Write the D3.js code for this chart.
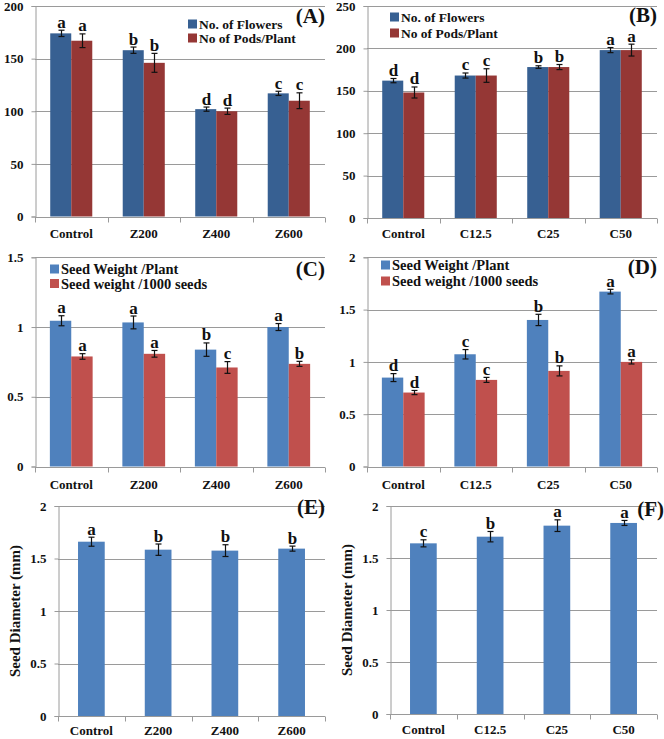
<!DOCTYPE html>
<html><head><meta charset="utf-8">
<script src="https://cdn.jsdelivr.net/npm/d3@7"></script>
<style>
html,body{margin:0;padding:0;background:#fff;}
svg{display:block;}
svg text{font-family:"Liberation Serif","Times New Roman",serif !important;font-weight:bold;fill:#111;}
</style></head>
<body>
<svg id="chart" width="664" height="739"></svg>
<script>
// ---------- DATA ----------
const catsZ = ["Control","Z200","Z400","Z600"];
const catsC = ["Control","C12.5","C25","C50"];

// Panel A (Zinc) - flowers & pods
const flowersZ = [174, 158, 102, 117];
const flowersZErr = [3, 3, 2, 2];
const flowersZLet = ["a","b","d","c"];
const podsZ = [167, 146, 100, 110];
const podsZErr = [6.5, 9, 3, 7.5];
const podsZLet = ["a","b","d","c"];

// Panel B (C) - flowers & pods
const flowersC = [162, 168, 178, 198];
const flowersCErr = [2.5, 3, 1.5, 3];
const flowersCLet = ["d","c","b","a"];
const podsC = [148, 168, 178, 198];
const podsCErr = [6.5, 8, 3, 7];
const podsCLet = ["d","c","b","a"];

// Panel C (Zinc) - seed weight
const seedPlantZ = [1.045, 1.033, 0.838, 1.0];
const seedPlantZErr = [0.036, 0.046, 0.048, 0.025];
const seedPlantZLet = ["a","a","b","a"];
const seed1000Z = [0.789, 0.808, 0.710, 0.736];
const seed1000ZErr = [0.02, 0.024, 0.042, 0.018];
const seed1000ZLet = ["a","a","c","b"];

// Panel D (C) - seed weight
const seedPlantC = [0.85, 1.073, 1.401, 1.672];
const seedPlantCErr = [0.038, 0.045, 0.054, 0.022];
const seedPlantCLet = ["d","c","b","a"];
const seed1000C = [0.707, 0.828, 0.914, 1.0];
const seed1000CErr = [0.02, 0.024, 0.048, 0.02];
const seed1000CLet = ["d","c","b","a"];

// Panel E/F - seed diameter
const diamZ = [1.66, 1.584, 1.575, 1.594];
const diamZErr = [0.043, 0.054, 0.056, 0.024];
const diamZLet = ["a","b","b","b"];
const diamC = [1.641, 1.705, 1.811, 1.837];
const diamCErr = [0.034, 0.05, 0.056, 0.024];
const diamCLet = ["c","b","a","a"];

const ticksA = [0,50,100,150,200];
const ticksB = [0,50,100,150,200,250];
const ticksC = [0,0.5,1,1.5];
const ticksD = [0,0.5,1,1.5,2];
const ticksEF = [0,0.5,1,1.5,2];

const legendFlowers = ["No. of Flowers","No of Pods/Plant"];
const legendSeed = ["Seed Weight /Plant","Seed weight /1000 seeds"];
const yLabelEF = "Seed Diameter (mm)";

// ---------- STYLES ----------
const dkBlue = "#376092", dkRed = "#953735";
const ltBlue = "#4F81BD", ltRed = "#C0504D";
const gridCol = "#9a9a9a";
const SERIF = "Liberation Serif";

const svg = d3.select("#chart");

function panel(cfg){
  const g = svg.append("g");
  const y = d3.scaleLinear().domain([0, cfg.ymax]).range([cfg.y0, cfg.y1]);
  const x = d3.scaleBand().domain(cfg.cats).range([cfg.x0, cfg.x1])
      .paddingInner(cfg.pad).paddingOuter(cfg.pad/2);
  const nS = cfg.series.length;
  const xs = d3.scaleBand().domain(d3.range(nS)).range([0, x.bandwidth()]);

  // gridlines
  g.selectAll("line.grid").data(cfg.ticks.filter(t=>t>0)).join("line")
    .attr("x1", cfg.x0).attr("x2", cfg.x1)
    .attr("y1", d=>Math.round(y(d))+0.5).attr("y2", d=>Math.round(y(d))+0.5)
    .attr("stroke", gridCol).attr("stroke-width",1);

  // y axis
  const ya = d3.axisLeft(y).tickValues(cfg.ticks).tickSize(4).tickPadding(cfg.tickPad||8)
      .tickFormat(d3.format("~g"));
  const yg = g.append("g").attr("transform",`translate(${cfg.x0+0.5},0)`).call(ya)
      .attr("font-family", SERIF).attr("font-size", 13);
  yg.select(".domain").attr("stroke", gridCol);
  yg.selectAll(".tick line").attr("stroke", gridCol);
  yg.selectAll(".tick text").attr("fill","#111").attr("font-weight","bold")
    .attr("font-family", SERIF).attr("font-size", 13);

  // x axis
  const xa = d3.axisBottom(x).tickSize(0).tickPadding(cfg.labPad);
  const xg = g.append("g").attr("transform",`translate(0,${Math.round(cfg.y0)+0.5})`).call(xa)
      .attr("font-family", SERIF).attr("font-size", 13);
  xg.select(".domain").attr("stroke", gridCol).attr("d", `M${cfg.x0},0H${cfg.x1}`);
  xg.selectAll(".tick text").attr("fill","#111").attr("font-weight","bold")
    .attr("font-family", SERIF).attr("font-size", 13);
  // boundary ticks
  const bounds = cfg.cats.map((c,i)=> x(c) - x.step()*x.paddingInner()/2).concat([cfg.x1]);
  xg.selectAll("line.bt").data(bounds).join("line")
    .attr("x1", d=>Math.round(d)+0.5).attr("x2", d=>Math.round(d)+0.5)
    .attr("y1",0).attr("y2",5).attr("stroke",gridCol);

  // bars
  cfg.series.forEach((s, si) => {
    const sg = g.append("g");
    sg.selectAll("rect").data(s.values).join("rect")
      .attr("x", (d,i)=> x(cfg.cats[i]) + xs(si))
      .attr("width", xs.bandwidth())
      .attr("y", d=> y(d))
      .attr("height", d=> y(0)-y(d))
      .attr("fill", s.color);
    // error bars
    const cap = 3;
    s.values.forEach((v,i)=>{
      const cx = Math.round(x(cfg.cats[i]) + xs(si) + xs.bandwidth()/2)+0.5;
      const e = s.err[i];
      sg.append("line").attr("x1",cx).attr("x2",cx).attr("y1",y(v+e)).attr("y2",y(v-e))
        .attr("stroke","#111").attr("stroke-width",1.2);
      [v+e, v-e].forEach(t=>{
        sg.append("line").attr("x1",cx-cap).attr("x2",cx+cap).attr("y1",y(t)).attr("y2",y(t))
          .attr("stroke","#111").attr("stroke-width",1.2);
      });
      sg.append("text").attr("x", cx).attr("y", y(v+e)-2.5)
        .attr("text-anchor","middle").style("font-size", "17px")
        .text(s.letters[i]);
    });
  });

  // legend
  if (cfg.legend){
    cfg.legend.forEach((l,i)=>{
      const ly = cfg.legY + i*cfg.legDy;
      g.append("rect").attr("x", cfg.legX).attr("y", ly-4.5).attr("width",9).attr("height",9)
        .attr("fill", cfg.series[i].color);
      g.append("text").attr("x", cfg.legX+11).attr("y", ly).attr("dy","0.35em")
        .style("font-size", cfg.legSize+"px").text(l);
    });
  }
  // panel tag
  g.append("text").attr("x", cfg.tagX).attr("y", cfg.tagY).attr("text-anchor","end")
    .style("font-size","21px").text(cfg.tag);

  // y label
  if (cfg.ylab){
    g.append("text").attr("transform",`translate(${cfg.ylabX},${(cfg.y0+cfg.y1)/2}) rotate(-90)`)
      .attr("text-anchor","middle").attr("dy","0.35em").style("font-size","15px").text(cfg.ylab);
  }
}

panel({cats:catsZ, ymax:200, ticks:ticksA, x0:35, x1:325, y0:216.5, y1:6, pad:0.42, labPad:11,
  series:[{values:flowersZ, err:flowersZErr, letters:flowersZLet, color:dkBlue},
          {values:podsZ, err:podsZErr, letters:podsZLet, color:dkRed}],
  legend:legendFlowers, legX:188, legY:24, legDy:14, legSize:13.5, tag:"(A)", tagX:325, tagY:23});

panel({cats:catsC, ymax:250, ticks:ticksB, x0:367, x1:657, y0:218, y1:6, pad:0.42, labPad:10,
  series:[{values:flowersC, err:flowersCErr, letters:flowersCLet, color:dkBlue},
          {values:podsC, err:podsCErr, letters:podsCLet, color:dkRed}],
  legend:legendFlowers, legX:390, legY:17, legDy:16, legSize:13.5, tag:"(B)", tagX:657, tagY:22});

panel({cats:catsZ, ymax:1.5, ticks:ticksC, x0:35, x1:325, y0:466.5, y1:257.3, pad:0.41, labPad:12,
  series:[{values:seedPlantZ, err:seedPlantZErr, letters:seedPlantZLet, color:ltBlue},
          {values:seed1000Z, err:seed1000ZErr, letters:seed1000ZLet, color:ltRed}],
  legend:legendSeed, legX:50, legY:269, legDy:14.5, legSize:14.5, tag:"(C)", tagX:325, tagY:276});

panel({cats:catsC, ymax:2, ticks:ticksD, x0:367, x1:657, y0:466.5, y1:257.3, pad:0.41, labPad:12,
  series:[{values:seedPlantC, err:seedPlantCErr, letters:seedPlantCLet, color:ltBlue},
          {values:seed1000C, err:seed1000CErr, letters:seed1000CLet, color:ltRed}],
  legend:legendSeed, legX:381, legY:265, legDy:16, legSize:14.5, tag:"(D)", tagX:657, tagY:274});

panel({cats:catsZ, ymax:2, ticks:ticksEF, x0:58, x1:325, y0:716, y1:506, pad:0.6, labPad:9,
  series:[{values:diamZ, err:diamZErr, letters:diamZLet, color:ltBlue}],
  tag:"(E)", tagX:325, tagY:514, ylab:yLabelEF, ylabX:15});

panel({cats:catsC, ymax:2, ticks:ticksEF, x0:390, x1:657, y0:714, y1:506, pad:0.6, labPad:10,
  series:[{values:diamC, err:diamCErr, letters:diamCLet, color:ltBlue}],
  tag:"(F)", tagX:664, tagY:516, ylab:yLabelEF, ylabX:347});
</script>
</body></html>
